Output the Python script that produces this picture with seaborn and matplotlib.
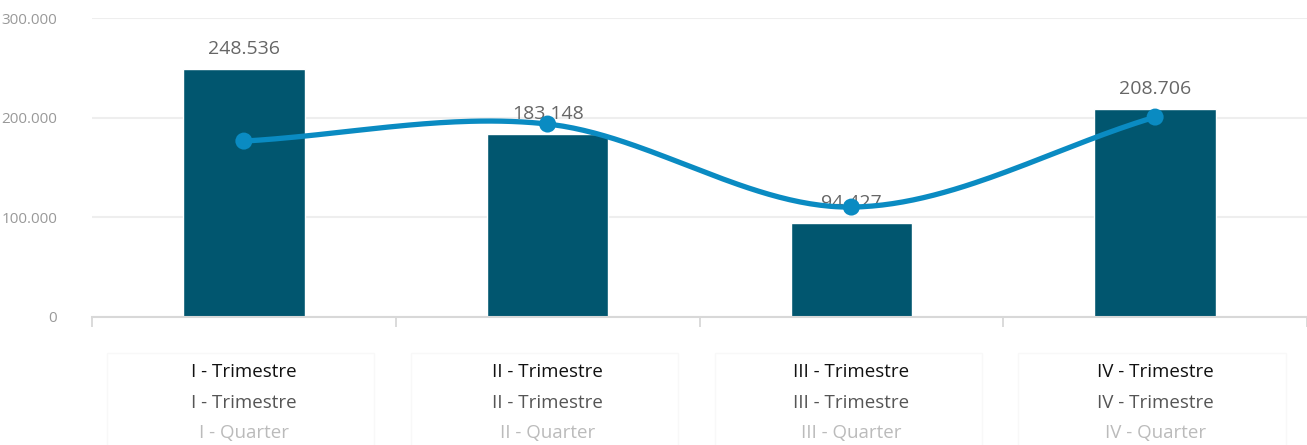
import numpy as np
import pandas as pd
import matplotlib
matplotlib.use("Agg")
import matplotlib.pyplot as plt
import matplotlib.ticker as mticker
from matplotlib.patches import Rectangle
from matplotlib.transforms import blended_transform_factory
import seaborn as sns

# Quarterly values
quarters = ["I - Trimestre", "II - Trimestre", "III - Trimestre", "IV - Trimestre"]
quarters_en = ["I - Quarter", "II - Quarter", "III - Quarter", "IV - Quarter"]
bar_values = [248536, 183148, 94427, 208706]
line_values = [176500, 193600, 110300, 200600]

sns.set_theme(style="white")
plt.rcParams["font.family"] = ["Open Sans", "DejaVu Sans"]

BAR_COLOR = "#01566F"
LINE_COLOR = "#0A8BC2"

fig = plt.figure(figsize=(13.07, 4.45), dpi=100)
ax = fig.add_axes([92 / 1307, 1 - 317 / 445, 1 - 92 / 1307, (317 - 18) / 445])

df = pd.DataFrame({"quarter": quarters, "value": bar_values})
sns.barplot(data=df, x="quarter", y="value", color=BAR_COLOR, width=0.40,
            saturation=1, ax=ax, zorder=2)

# Smooth line through the quarterly points (Catmull-Rom spline)
xs = np.arange(len(line_values), dtype=float)
ys = np.array(line_values, dtype=float)
px = np.concatenate([[2 * xs[0] - xs[1]], xs, [2 * xs[-1] - xs[-2]]])
py = np.concatenate([[2 * ys[0] - ys[1]], ys, [2 * ys[-1] - ys[-2]]])
cx, cy = [], []
t = np.linspace(0, 1, 60)
for i in range(1, len(px) - 2):
    p0, p1, p2, p3 = py[i - 1], py[i], py[i + 1], py[i + 2]
    x0, x1, x2, x3 = px[i - 1], px[i], px[i + 1], px[i + 2]
    cy.append(0.5 * ((2 * p1) + (-p0 + p2) * t + (2 * p0 - 5 * p1 + 4 * p2 - p3) * t ** 2
                     + (-p0 + 3 * p1 - 3 * p2 + p3) * t ** 3))
    cx.append(0.5 * ((2 * x1) + (-x0 + x2) * t + (2 * x0 - 5 * x1 + 4 * x2 - x3) * t ** 2
                     + (-x0 + 3 * x1 - 3 * x2 + x3) * t ** 3))
curve = pd.DataFrame({"x": np.concatenate(cx), "y": np.concatenate(cy)})
sns.lineplot(data=curve, x="x", y="y", color=LINE_COLOR, linewidth=3.8,
             sort=False, estimator=None, ax=ax, zorder=4)
sns.scatterplot(x=xs, y=ys, color=LINE_COLOR, s=150, edgecolor="none",
                ax=ax, zorder=5)

# Value labels above the bars
for i, v in enumerate(bar_values):
    ax.text(i, v + 11000, f"{v:,}".replace(",", "."), ha="center", va="bottom",
            fontsize=14, color="#666666", zorder=3)

ax.set_xlim(-0.5, 3.5)
ax.set_ylim(0, 300000)
ax.set_yticks([0, 100000, 200000, 300000])
ax.yaxis.set_major_formatter(mticker.FuncFormatter(lambda v, _: f"{int(v):,}".replace(",", ".")))
ax.tick_params(axis="y", labelsize=11, colors="#999999", length=0, pad=25)
for lbl in ax.get_yticklabels():
    lbl.set_color("#999999")
ax.grid(axis="y", color="#EEEEEE", linewidth=1.5, zorder=0)
ax.set_axisbelow(True)

# Category boundary ticks
ax.set_xticks([-0.5, 0.5, 1.5, 2.5, 3.5])
ax.set_xticklabels([])
ax.tick_params(axis="x", bottom=True, length=7, width=1.3, color="#D8D8D8", direction="out")
ax.set_xlabel("")
ax.set_ylabel("")
for side in ["top", "right", "left"]:
    ax.spines[side].set_visible(False)
ax.spines["bottom"].set_color("#D8D8D8")
ax.spines["bottom"].set_linewidth(1.5)

# Category labels: three lines below each group, inside faint frames
trans = blended_transform_factory(ax.transData, fig.transFigure)
for i in range(len(quarters)):
    ax.add_patch(Rectangle((i - 0.45, -0.01), 0.88, 1 - 353 / 445 + 0.01, transform=trans,
                           facecolor="none", edgecolor="#F8F8F8", linewidth=1.0,
                           clip_on=False))
    ax.text(i, 1 - 372 / 445, quarters[i], transform=trans, ha="center", va="center",
            fontsize=13.5, fontweight="medium", color="#111111")
    ax.text(i, 1 - 403 / 445, quarters[i], transform=trans, ha="center", va="center",
            fontsize=13.5, color="#555555")
    ax.text(i, 1 - 433 / 445, quarters_en[i], transform=trans, ha="center", va="center",
            fontsize=13.5, color="#BBBBBB")

fig.savefig("out.png", dpi=100)
